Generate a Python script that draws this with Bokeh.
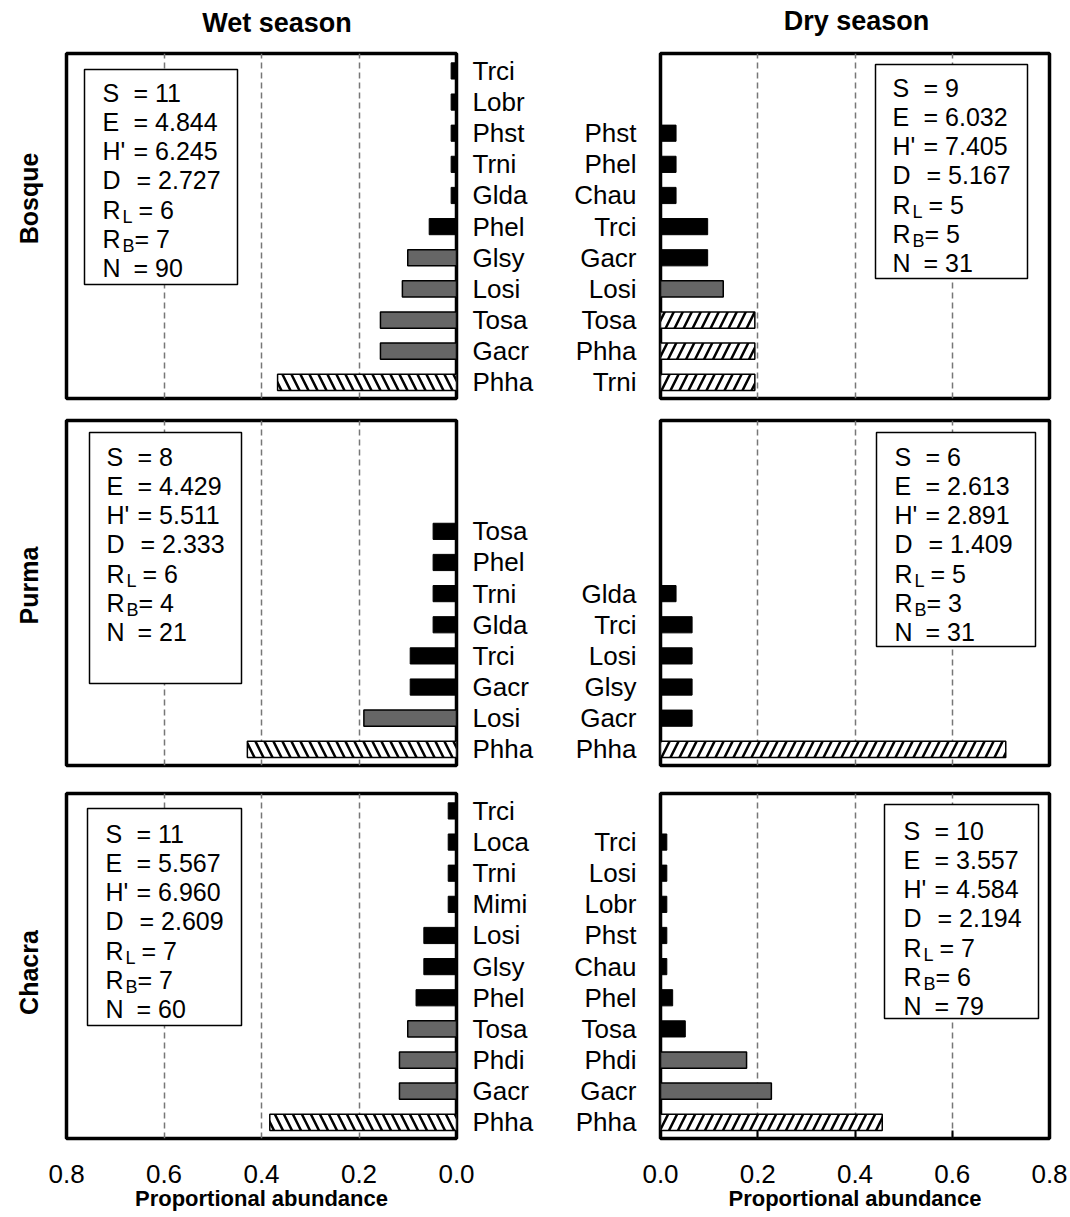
import math
from bokeh.plotting import figure
from bokeh.models import Range1d, FixedTicker, Grid, ColumnDataSource, NumeralTickFormatter
from bokeh.layouts import column, row
from bokeh.embed import file_html
from bokeh.resources import INLINE
from bokeh.core.properties import value

FONT = "Liberation Sans"

# ---------------- data (species listed bottom -> top) ----------------
bosque_wet_species = ["Phha", "Gacr", "Tosa", "Losi", "Glsy", "Phel", "Glda", "Trni", "Phst", "Lobr", "Trci"]
bosque_wet_values = [0.367, 0.156, 0.156, 0.111, 0.100, 0.056, 0.011, 0.011, 0.011, 0.011, 0.011]
bosque_wet_class = ["dom", "com", "com", "com", "com", "rare", "rare", "rare", "rare", "rare", "rare"]
bosque_wet_stats = ["11", "4.844", "6.245", "2.727", "6", "7", "90"]

bosque_dry_species = ["Trni", "Phha", "Tosa", "Losi", "Gacr", "Trci", "Chau", "Phel", "Phst"]
bosque_dry_values = [0.194, 0.194, 0.194, 0.129, 0.097, 0.097, 0.032, 0.032, 0.032]
bosque_dry_class = ["dom", "dom", "dom", "com", "rare", "rare", "rare", "rare", "rare"]
bosque_dry_stats = ["9", "6.032", "7.405", "5.167", "5", "5", "31"]

purma_wet_species = ["Phha", "Losi", "Gacr", "Trci", "Glda", "Trni", "Phel", "Tosa"]
purma_wet_values = [0.429, 0.190, 0.095, 0.095, 0.048, 0.048, 0.048, 0.048]
purma_wet_class = ["dom", "com", "rare", "rare", "rare", "rare", "rare", "rare"]
purma_wet_stats = ["8", "4.429", "5.511", "2.333", "6", "4", "21"]

purma_dry_species = ["Phha", "Gacr", "Glsy", "Losi", "Trci", "Glda"]
purma_dry_values = [0.710, 0.065, 0.065, 0.065, 0.065, 0.032]
purma_dry_class = ["dom", "rare", "rare", "rare", "rare", "rare"]
purma_dry_stats = ["6", "2.613", "2.891", "1.409", "5", "3", "31"]

chacra_wet_species = ["Phha", "Gacr", "Phdi", "Tosa", "Phel", "Glsy", "Losi", "Mimi", "Trni", "Loca", "Trci"]
chacra_wet_values = [0.383, 0.117, 0.117, 0.100, 0.083, 0.067, 0.067, 0.017, 0.017, 0.017, 0.017]
chacra_wet_class = ["dom", "com", "com", "com", "rare", "rare", "rare", "rare", "rare", "rare", "rare"]
chacra_wet_stats = ["11", "5.567", "6.960", "2.609", "7", "7", "60"]

chacra_dry_species = ["Phha", "Gacr", "Phdi", "Tosa", "Phel", "Chau", "Phst", "Lobr", "Losi", "Trci"]
chacra_dry_values = [0.456, 0.228, 0.177, 0.051, 0.025, 0.013, 0.013, 0.013, 0.013, 0.013]
chacra_dry_class = ["dom", "com", "com", "rare", "rare", "rare", "rare", "rare", "rare", "rare"]
chacra_dry_stats = ["10", "3.557", "4.584", "2.194", "7", "6", "79"]

x_ticks = [0.0, 0.2, 0.4, 0.6, 0.8]
grid_ticks = [0.2, 0.4, 0.6]
site_names = ["Bosque", "Purma", "Chacra"]
season_names = ["Wet season", "Dry season"]
x_title = "Proportional abundance"

# ---------------- layout constants (pixels) ----------------
XMAX = 0.8
Y0, Y1 = -0.52, 10.56
FH = 345
FW = {"wet": 390, "dry": 389}
HEADER_H = 42
LABEL_W = 48
TOTAL_W = 1069
ROW_BORDERS = [(11, 11), (11, 14), (14, 78)]
# stats box: (left, top, width, height, text_dx, text_dy) in px relative to frame
BOXES = {
    ("wet", 0): (18, 16, 153, 215, 18, 23),
    ("dry", 0): (215, 11, 152, 214, 17, 23),
    ("wet", 1): (23, 12, 152, 251, 17, 24),
    ("dry", 1): (216, 12, 159, 214, 18, 24),
    ("wet", 2): (21, 15, 154, 217, 18, 25),
    ("dry", 2): (224, 11, 154, 214, 19, 26),
}
TITLE_POS = [(276.5, 22), (856, 20)]      # header px (x, y from top)
ROW_LABEL_POS = [(28, 145), (28, 165), (28, 179)]  # px inside each label strip


def pixel_fig(w, h):
    f = figure(frame_width=w, frame_height=h, x_range=Range1d(0, w), y_range=Range1d(h, 0),
               min_border_left=0, min_border_right=0, min_border_top=0, min_border_bottom=0,
               x_axis_location=None, y_axis_location=None, toolbar_location=None,
               output_backend="svg", outline_line_color=None,
               background_fill_color="white", border_fill_color="white")
    f.center = [c for c in f.center if not isinstance(c, Grid)]
    return f


def make_panel(season, r, species, values, classes, stats):
    wet = season == "wet"
    fw = FW[season]
    xr = Range1d(XMAX, 0.0) if wet else Range1d(0.0, XMAX)
    top_b, bot_b = ROW_BORDERS[r]
    p = figure(x_range=xr, y_range=Range1d(Y0, Y1), frame_width=fw, frame_height=FH,
               min_border_left=(66 - LABEL_W) if wet else 100, min_border_right=104 if wet else 20,
               min_border_top=top_b, min_border_bottom=bot_b,
               x_axis_location="below" if r == 2 else None,
               y_axis_location="right" if wet else "left",
               toolbar_location=None, output_backend="svg",
               background_fill_color="white", border_fill_color="white",
               outline_line_color="black", outline_line_width=3.5, outline_line_alpha=1.0)

    def px_x(px):
        return (XMAX - px * XMAX / fw) if wet else (px * XMAX / fw)

    def px_y(py):
        return Y1 - py * (Y1 - Y0) / FH

    # grid
    p.center = [c for c in p.center if not isinstance(c, Grid)]
    p.add_layout(Grid(dimension=0, ticker=FixedTicker(ticks=grid_ticks), grid_line_color="#777777",
                      grid_line_width=1.5, grid_line_dash="6 4"), "center")

    # y axis (species)
    ya = p.yaxis[0]
    ya.ticker = FixedTicker(ticks=list(range(len(species))))
    ya.major_label_overrides = {i: s for i, s in enumerate(species)}
    ya.axis_line_color = None
    ya.major_tick_line_color = None
    ya.major_tick_out = 0
    ya.major_tick_in = 0
    ya.minor_tick_line_color = None
    ya.major_label_text_font = FONT
    ya.major_label_text_font_size = "26px"
    ya.major_label_text_color = "black"
    ya.major_label_standoff = 16 if wet else 24

    if r == 2:
        xa = p.xaxis[0]
        xa.ticker = FixedTicker(ticks=x_ticks)
        xa.formatter = NumeralTickFormatter(format="0.0")
        xa.axis_line_color = None
        xa.minor_tick_line_color = None
        xa.major_tick_out = 0
        if wet:
            xa.major_tick_in = 0
            xa.major_tick_line_color = None
        else:
            xa.major_tick_in = 8
            xa.major_tick_line_width = 2
            xa.major_tick_line_color = "black"
        xa.major_label_text_font = FONT
        xa.major_label_text_font_size = "26px"
        xa.major_label_text_color = "black"
        xa.major_label_standoff = 26
        xa.axis_label = x_title
        xa.axis_label_text_font = FONT
        xa.axis_label_text_font_size = "22px"
        xa.axis_label_text_font_style = "bold"
        xa.axis_label_text_color = "black"
        xa.axis_label_standoff = 0

    # bars
    ys = list(range(len(species)))

    def sub(cls):
        idx = [i for i, c in enumerate(classes) if c == cls]
        return ColumnDataSource(dict(y=[ys[i] for i in idx], v=[values[i] for i in idx]))

    p.hbar(y="y", left=0, right="v", height=0.52, source=sub("rare"),
           fill_color="black", line_color="black", line_width=1)
    p.hbar(y="y", left=0, right="v", height=0.52, source=sub("com"),
           fill_color="#666666", line_color="black", line_width=1.5)
    p.hbar(y="y", left=0, right="v", height=0.52, source=sub("dom"),
           fill_color="white", line_color="black", line_width=1.5,
           hatch_pattern="\\" if wet else "/", hatch_color="black",
           hatch_weight=2.5, hatch_scale=18)

    # stats box
    bl, bt, bw, bh, tdx, tdy = BOXES[(season, r)]
    p.quad(left=px_x(bl), right=px_x(bl + bw), top=px_y(bt), bottom=px_y(bt + bh),
           fill_color="white", line_color="black", line_width=1.5)
    names = ["S", "E", "H'", "D", "R", "R", "N"]
    subs = [None, None, None, None, "L", "B", None]
    eq_extra = [0, 0, 0, 3, 5, 1, 0]
    nx, ny, nt, ex, et, sx, sy, st = [], [], [], [], [], [], [], []
    for i in range(7):
        yc = px_y(bt + tdy + i * 29.3)
        nx.append(px_x(bl + tdx)); ny.append(yc); nt.append(names[i])
        ex.append(px_x(bl + tdx + 31 + eq_extra[i])); et.append("= " + stats[i])
        if subs[i]:
            sx.append(px_x(bl + tdx + 20)); sy.append(yc); st.append(subs[i])
    p.text(x=nx, y=ny, text=nt, text_font=value(FONT), text_font_size="25px",
           text_baseline="middle", text_align="left", text_color="black")
    p.text(x=ex, y=ny, text=et, text_font=value(FONT), text_font_size="25px",
           text_baseline="middle", text_align="left", text_color="black")
    p.text(x=sx, y=sy, text=st, text_font=value(FONT), text_font_size="18px",
           text_baseline="middle", text_align="left", text_color="black", y_offset=7)
    return p


panels = [
    (make_panel("wet", 0, bosque_wet_species, bosque_wet_values, bosque_wet_class, bosque_wet_stats),
     make_panel("dry", 0, bosque_dry_species, bosque_dry_values, bosque_dry_class, bosque_dry_stats)),
    (make_panel("wet", 1, purma_wet_species, purma_wet_values, purma_wet_class, purma_wet_stats),
     make_panel("dry", 1, purma_dry_species, purma_dry_values, purma_dry_class, purma_dry_stats)),
    (make_panel("wet", 2, chacra_wet_species, chacra_wet_values, chacra_wet_class, chacra_wet_stats),
     make_panel("dry", 2, chacra_dry_species, chacra_dry_values, chacra_dry_class, chacra_dry_stats)),
]

# header with column titles
header = pixel_fig(TOTAL_W, HEADER_H)
header.text(x=[TITLE_POS[0][0], TITLE_POS[1][0]], y=[TITLE_POS[0][1], TITLE_POS[1][1]], text=season_names,
            text_font=value(FONT), text_font_size="27px", text_font_style="bold",
            text_align="center", text_baseline="middle", text_color="black")

rows = [header]
for r, (a, b) in enumerate(panels):
    h = ROW_BORDERS[r][0] + FH + ROW_BORDERS[r][1]
    lab = pixel_fig(LABEL_W, h)
    lab.text(x=[ROW_LABEL_POS[r][0]], y=[ROW_LABEL_POS[r][1]], text=[site_names[r]], angle=math.pi / 2,
             text_font=value(FONT), text_font_size="25px", text_font_style="bold",
             text_align="center", text_baseline="middle", text_color="black")
    rows.append(row(lab, a, b, spacing=0))

layout = column(*rows, spacing=0)

with open("out.html", "w") as f:
    f.write(file_html(layout, INLINE))
